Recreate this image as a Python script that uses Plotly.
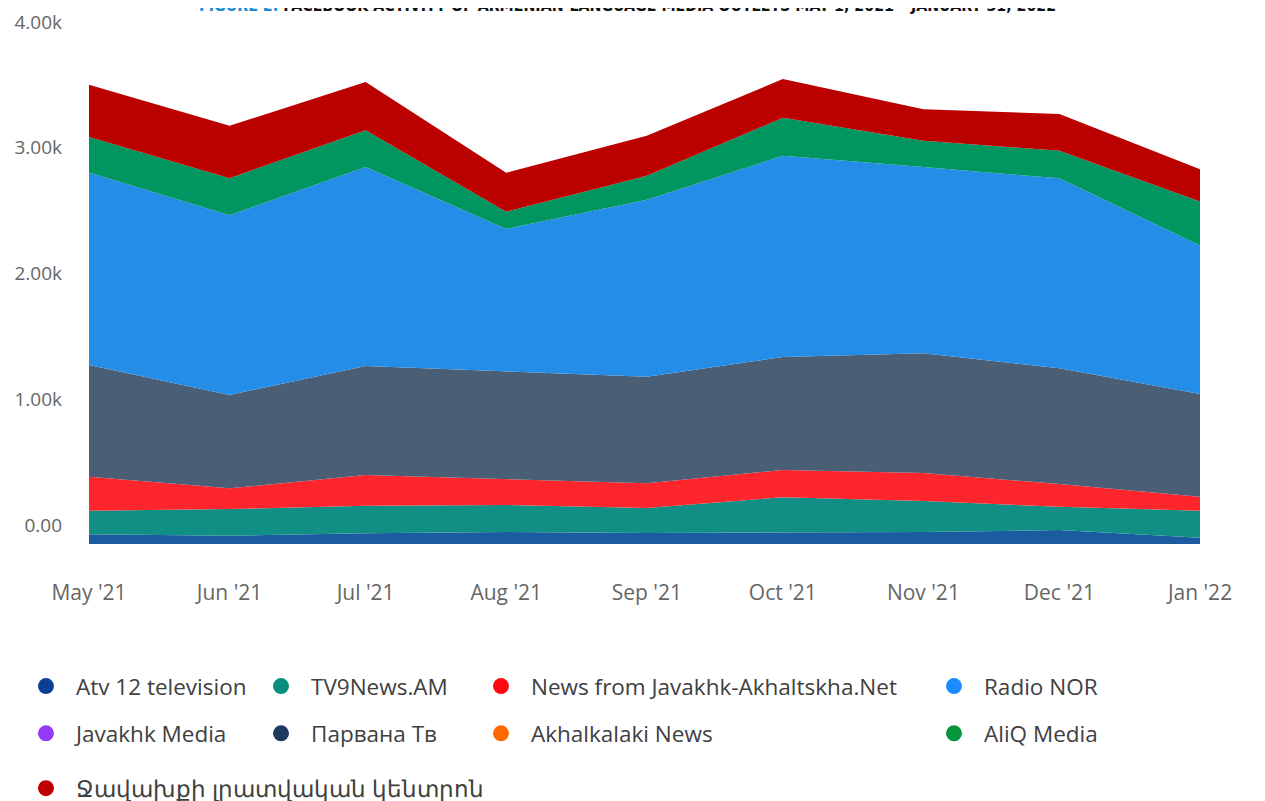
import plotly.graph_objects as go

# Monthly points (first of month)
months = ["2021-05-01", "2021-06-01", "2021-07-01", "2021-08-01", "2021-09-01",
          "2021-10-01", "2021-11-01", "2021-12-01", "2022-01-01"]

# the stack in the source picture starts a bit below the zero line
stack_base = [-151, -151, -151, -151, -151, -151, -151, -151, -151]

atv12 = [77, 66, 85, 95, 88, 90, 95, 111, 50]
tv9news = [188, 212, 220, 215, 199, 282, 247, 185, 215]
javakhk_net = [270, 165, 244, 204, 196, 217, 223, 181, 111]
javakhk_media = [0, 0, 0, 0, 0, 0, 0, 0, 0]
parvana = [889, 742, 867, 856, 846, 899, 952, 920, 817]
akhalkalaki = [0, 0, 0, 0, 0, 0, 0, 0, 0]
radio_nor = [1530, 1430, 1581, 1135, 1408, 1599, 1480, 1511, 1180]
aliq = [282, 294, 294, 138, 191, 302, 209, 220, 350]
javakhq_center = [416, 416, 382, 310, 318, 308, 252, 292, 258]

y_tickvals = [0, 1000, 2000, 3000, 4000]
y_ticktext = ["0.00", "1.00k", "2.00k", "3.00k", "4.00k"]

title_text = ("<span style='color:#1a8ad4'>FIGURE 2:</span> FACEBOOK ACTIVITY OF "
              "ARMENIAN-LANGUAGE MEDIA OUTLETS MAY 1, 2021 – JANUARY 31, 2022")

# name, values, area colour, legend dot colour, legend box
series = [
    ("Atv 12 television", atv12, "#1a5c9f", "#0b3f94", "legend"),
    ("TV9News.AM", tv9news, "#118f84", "#078e80", "legend2"),
    ("News from Javakhk-Akhaltskha.Net", javakhk_net, "#fe252d", "#fc0a10", "legend3"),
    ("Javakhk Media", javakhk_media, "#8f3cf5", "#9339f7", "legend"),
    ("Парвана Тв", parvana, "#4a5e76", "#1c3a5c", "legend2"),
    ("Akhalkalaki News", akhalkalaki, "#ff6a10", "#ff6a00", "legend3"),
    ("Radio NOR", radio_nor, "#248de8", "#1a8cff", "legend4"),
    ("AliQ Media", aliq, "#01955f", "#05953c", "legend4"),
    ("Ջավախքի լրատվական կենտրոն", javakhq_center, "#bb0000", "#c00000", "legend5"),
]

fig = go.Figure()

fig.add_trace(go.Scatter(x=months, y=stack_base, stackgroup="one", fill="none",
                         mode="lines", line=dict(width=0), showlegend=False,
                         hoverinfo="skip"))

for name, vals, area_col, dot_col, leg in series:
    fig.add_trace(go.Scatter(x=months, y=vals, stackgroup="one", name=name,
                             mode="lines", line=dict(width=0, color=area_col),
                             fillcolor=area_col, showlegend=False))

# legend entries drawn as round dots
for name, vals, area_col, dot_col, leg in series:
    fig.add_trace(go.Scatter(x=[None], y=[None], mode="markers", name=name,
                             marker=dict(size=16, color=dot_col),
                             legend=leg, legendgroup=name, showlegend=True))

legend_font = dict(family="Open Sans", size=22.5, color="#404040")
leg_common = dict(orientation="v", font=legend_font, itemwidth=50, tracegroupgap=15,
                  bgcolor="rgba(0,0,0,0)", xanchor="left", yanchor="top",
                  xref="container", yref="container")

# title sits mostly above the top edge, as in the source image
fig.add_annotation(text=title_text, xref="paper", yref="paper", x=0.4843, y=1.0307,
                   xanchor="center", yanchor="middle", showarrow=False,
                   font=dict(family="Liberation Sans Narrow, DejaVu Sans Condensed, Arial Narrow",
                             size=15.8, color="#111111", weight="bold"))

fig.update_layout(
    width=1265, height=801, autosize=False,
    margin=dict(l=81, r=73, t=14, b=265, autoexpand=False),
    paper_bgcolor="white", plot_bgcolor="white",
    xaxis=dict(type="date", range=[months[0], months[-1]], tickformat="%b '%y",
               dtick="M1", tick0=months[0], showgrid=False, zeroline=False,
               showline=False, ticks="", ticklabelstandoff=34,
               tickfont=dict(family="Open Sans", size=21, color="#666666")),
    yaxis=dict(range=[-151, 4000], tickvals=y_tickvals, ticktext=y_ticktext,
               showgrid=False, zeroline=False, showline=False, ticks="",
               ticklabelstandoff=26,
               tickfont=dict(family="Open Sans", size=19, color="#666666")),
    legend=dict(x=0.0063, y=0.1798, **leg_common),
    legend2=dict(x=0.1921, y=0.1798, **leg_common),
    legend3=dict(x=0.366, y=0.1798, **leg_common),
    legend4=dict(x=0.7241, y=0.1798, **leg_common),
    legend5=dict(x=0.0063, y=0.0524, **leg_common),
)

fig.write_html("out.html")
